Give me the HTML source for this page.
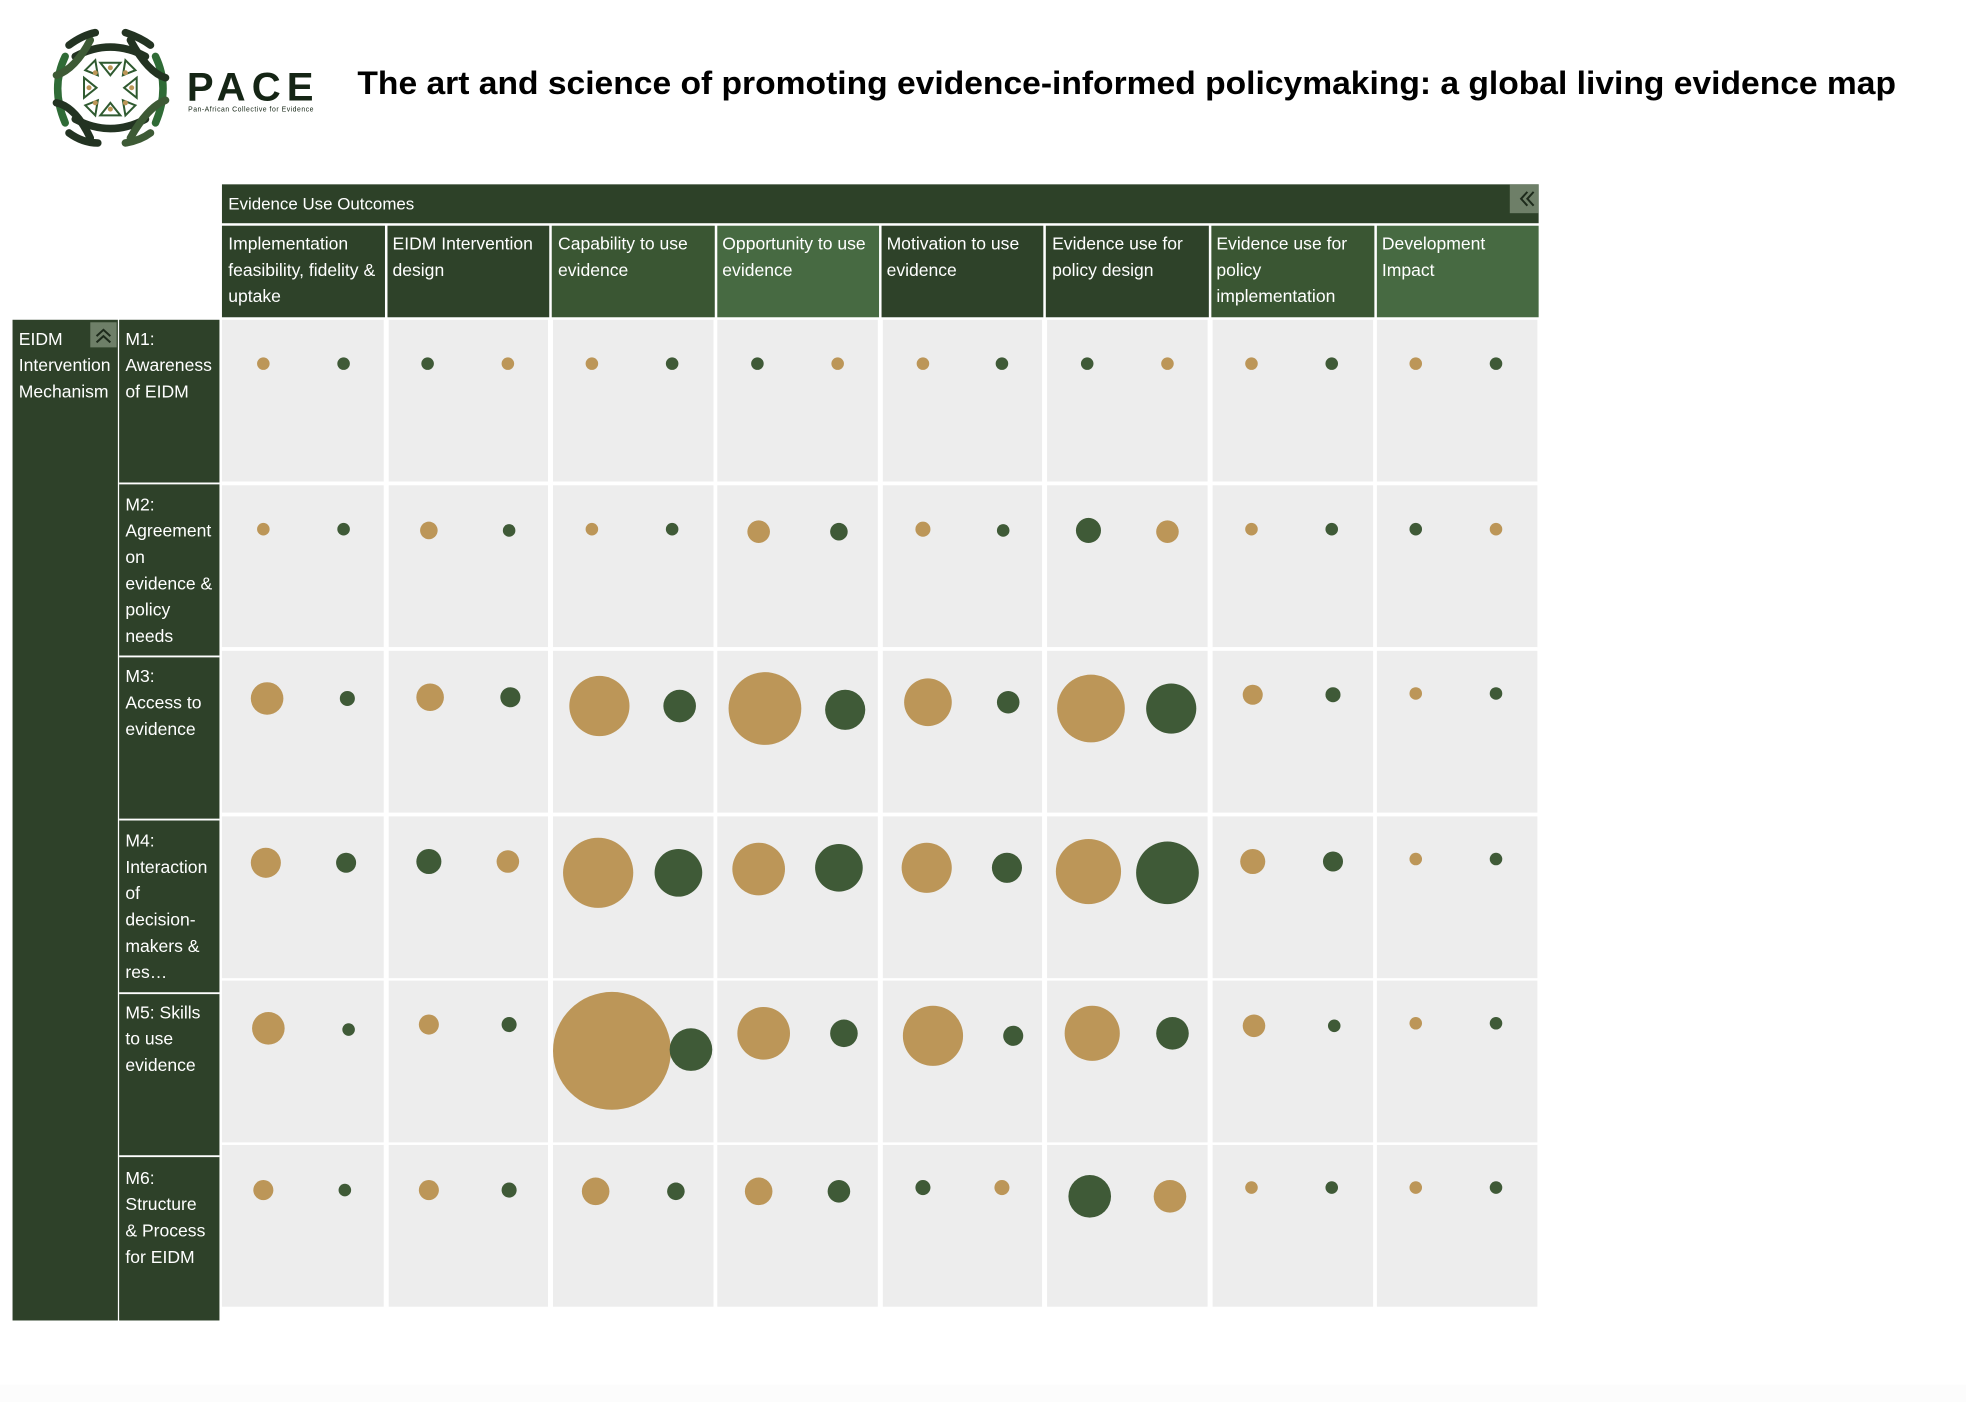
<!DOCTYPE html>
<html><head><meta charset="utf-8"><style>html,body{margin:0;padding:0;background:#fff}svg{display:block}</style></head><body>
<svg width="1966" height="1402" viewBox="0 0 1567.8 1118" preserveAspectRatio="none" xmlns="http://www.w3.org/2000/svg" font-family="Liberation Sans, Arial, sans-serif">
<rect width="1567.8" height="1118" fill="#fff"/>
<rect y="1104" width="1567.8" height="16" fill="#fcfcfc"/>
<g fill="none" stroke-linecap="round" stroke-width="6">
<path d="M60 45 Q88 30 116 45" stroke="#233322"/>
<path d="M60 95 Q88 110 116 95" stroke="#233322"/>
<path d="M52 45 Q40 70 52 98" stroke="#2f6b36"/>
<path d="M124 45 Q136 70 124 98" stroke="#2f6b36"/>
<path d="M72 32 Q60 55 45 60" stroke="#3d5a35"/>
<path d="M104 32 Q118 58 132 62" stroke="#233322"/>
<path d="M72 110 Q60 85 45 82" stroke="#233322"/>
<path d="M104 110 Q118 85 132 80" stroke="#3d5a35"/>
<path d="M55 36 Q66 28 76 26" stroke="#233322"/>
<path d="M100 26 Q112 30 120 36" stroke="#233322"/>
<path d="M55 106 Q66 114 78 114" stroke="#233322"/>
<path d="M100 114 Q112 112 120 106" stroke="#3d5a35"/>
</g>
<g fill="none" stroke="#2f5a30" stroke-width="1.6">
<polygon points="80,50 96,50 88,60"/><polygon points="80,92 96,92 88,82"/>
<polygon points="67,62 67,78 77,70"/><polygon points="109,62 109,78 99,70"/>
<polygon points="68,56 76,48 78,60"/><polygon points="108,56 100,48 98,60"/>
<polygon points="68,84 76,92 78,80"/><polygon points="108,84 100,92 98,80"/>
</g>
<g fill="#bc9658"><circle cx="88" cy="54" r="2"/><circle cx="88" cy="87" r="2"/><circle cx="71" cy="70" r="2"/><circle cx="105" cy="70" r="2"/><circle cx="76" cy="58" r="2"/><circle cx="100" cy="58" r="2"/><circle cx="76" cy="82" r="2"/><circle cx="100" cy="82" r="2"/></g>
<text x="149" y="80" font-size="32" font-weight="bold" fill="#152515" textLength="101" lengthAdjust="spacing">PACE</text>
<text x="150" y="89" font-size="5.5" fill="#152515" textLength="100">Pan-African Collective for Evidence</text>
<text x="285" y="75" font-size="26" font-weight="bold" fill="#000" textLength="1227" lengthAdjust="spacingAndGlyphs">The art and science of promoting evidence-informed policymaking: a global living evidence map</text>
<rect x="177" y="147" width="1050" height="31" fill="#2d4128"/>
<text x="182" y="167" font-size="13.5" fill="#fff">Evidence Use Outcomes</text>
<rect x="1204" y="147" width="23" height="23" fill="#6e7f68"/>
<polyline points="1218,153 1213,158.5 1218,164" fill="none" stroke="#1d2a1b" stroke-width="1.6"/>
<polyline points="1223,153 1218,158.5 1223,164" fill="none" stroke="#1d2a1b" stroke-width="1.6"/>
<g>
<rect x="177" y="180" width="130" height="73" fill="#2e4229"/>
<rect x="309" y="180" width="129" height="73" fill="#2e4229"/>
<rect x="440" y="180" width="130" height="73" fill="#3a5633"/>
<rect x="572" y="180" width="129" height="73" fill="#476a42"/>
<rect x="703" y="180" width="129" height="73" fill="#2e4229"/>
<rect x="834" y="180" width="130" height="73" fill="#2e4229"/>
<rect x="966" y="180" width="130" height="73" fill="#3a5633"/>
<rect x="1098" y="180" width="129" height="73" fill="#476a42"/>
</g>
<g font-size="14" fill="#fff">
<text x="182" y="199"><tspan x="182">Implementation</tspan><tspan x="182" dy="21">feasibility, fidelity &amp;</tspan><tspan x="182" dy="21">uptake</tspan></text>
<text x="313" y="199"><tspan x="313">EIDM Intervention</tspan><tspan x="313" dy="21">design</tspan></text>
<text x="445" y="199"><tspan x="445">Capability to use</tspan><tspan x="445" dy="21">evidence</tspan></text>
<text x="576" y="199"><tspan x="576">Opportunity to use</tspan><tspan x="576" dy="21">evidence</tspan></text>
<text x="707" y="199"><tspan x="707">Motivation to use</tspan><tspan x="707" dy="21">evidence</tspan></text>
<text x="839" y="199"><tspan x="839">Evidence use for</tspan><tspan x="839" dy="21">policy design</tspan></text>
<text x="970" y="199"><tspan x="970">Evidence use for</tspan><tspan x="970" dy="21">policy</tspan><tspan x="970" dy="21">implementation</tspan></text>
<text x="1102" y="199"><tspan x="1102">Development</tspan><tspan x="1102" dy="21">Impact</tspan></text>
</g>
<rect x="10" y="255" width="84" height="798" fill="#2e4129"/>
<rect x="95" y="255" width="80" height="798" fill="#2e4129"/>
<rect x="72" y="257" width="21" height="20" fill="#6e7f68"/>
<polyline points="77,268 82.5,263 88,268" fill="none" stroke="#1d2a1b" stroke-width="1.6"/>
<polyline points="77,273 82.5,268 88,273" fill="none" stroke="#1d2a1b" stroke-width="1.6"/>
<g stroke="#fff" stroke-width="1.5"><line x1="95" y1="385.5" x2="175" y2="385.5"/><line x1="95" y1="523.5" x2="175" y2="523.5"/><line x1="95" y1="653.5" x2="175" y2="653.5"/><line x1="95" y1="792" x2="175" y2="792"/><line x1="95" y1="922" x2="175" y2="922"/></g>
<g font-size="14" fill="#fff">
<text x="15" y="275"><tspan x="15">EIDM</tspan><tspan x="15" dy="21">Intervention</tspan><tspan x="15" dy="21">Mechanism</tspan></text>
<text x="100" y="275"><tspan x="100">M1:</tspan><tspan x="100" dy="21">Awareness</tspan><tspan x="100" dy="21">of EIDM</tspan></text>
<text x="100" y="407"><tspan x="100">M2:</tspan><tspan x="100" dy="21">Agreement</tspan><tspan x="100" dy="21">on</tspan><tspan x="100" dy="21">evidence &amp;</tspan><tspan x="100" dy="21">policy</tspan><tspan x="100" dy="21">needs</tspan></text>
<text x="100" y="544"><tspan x="100">M3:</tspan><tspan x="100" dy="21">Access to</tspan><tspan x="100" dy="21">evidence</tspan></text>
<text x="100" y="675"><tspan x="100">M4:</tspan><tspan x="100" dy="21">Interaction</tspan><tspan x="100" dy="21">of</tspan><tspan x="100" dy="21">decision-</tspan><tspan x="100" dy="21">makers &amp;</tspan><tspan x="100" dy="21">res…</tspan></text>
<text x="100" y="812"><tspan x="100">M5: Skills</tspan><tspan x="100" dy="21">to use</tspan><tspan x="100" dy="21">evidence</tspan></text>
<text x="100" y="944"><tspan x="100">M6:</tspan><tspan x="100" dy="21">Structure</tspan><tspan x="100" dy="21">&amp; Process</tspan><tspan x="100" dy="21">for EIDM</tspan></text>
</g>
<defs><g id="row">
<rect x="177" width="129" height="129"/><rect x="310" width="127" height="129"/><rect x="441" width="128" height="129"/><rect x="572" width="128" height="129"/><rect x="704" width="127" height="129"/><rect x="835" width="128" height="129"/><rect x="967" width="128" height="129"/><rect x="1098" width="128" height="129"/>
</g></defs>
<g fill="#ededed">
<use href="#row" y="255"/><use href="#row" y="387"/><use href="#row" y="519"/><use href="#row" y="651"/><use href="#row" y="782"/><use href="#row" y="913"/>
</g>
<g>
<g fill="#bc9658"><circle cx="210" cy="290" r="5"/><circle cx="405" cy="290" r="5"/><circle cx="472" cy="290" r="5"/><circle cx="668" cy="290" r="5"/><circle cx="736" cy="290" r="5"/><circle cx="931" cy="290" r="5"/><circle cx="998" cy="290" r="5"/><circle cx="1129" cy="290" r="5"/></g>
<g fill="#3f5a37"><circle cx="274" cy="290" r="5"/><circle cx="341" cy="290" r="5"/><circle cx="536" cy="290" r="5"/><circle cx="604" cy="290" r="5"/><circle cx="799" cy="290" r="5"/><circle cx="867" cy="290" r="5"/><circle cx="1062" cy="290" r="5"/><circle cx="1193" cy="290" r="5"/></g>
<g fill="#bc9658"><circle cx="210" cy="422" r="5"/><circle cx="342" cy="423" r="7"/><circle cx="472" cy="422" r="5"/><circle cx="605" cy="424" r="9"/><circle cx="736" cy="422" r="6"/><circle cx="931" cy="424" r="9"/><circle cx="998" cy="422" r="5"/><circle cx="1193" cy="422" r="5"/></g>
<g fill="#3f5a37"><circle cx="274" cy="422" r="5"/><circle cx="406" cy="423" r="5"/><circle cx="536" cy="422" r="5"/><circle cx="669" cy="424" r="7"/><circle cx="800" cy="423" r="5"/><circle cx="868" cy="423" r="10"/><circle cx="1062" cy="422" r="5"/><circle cx="1129" cy="422" r="5"/></g>
<g fill="#bc9658"><circle cx="213" cy="557" r="13"/><circle cx="343" cy="556" r="11"/><circle cx="478" cy="563" r="24"/><circle cx="610" cy="565" r="29"/><circle cx="740" cy="560" r="19"/><circle cx="870" cy="565" r="27"/><circle cx="999" cy="554" r="8"/><circle cx="1129" cy="553" r="5"/></g>
<g fill="#3f5a37"><circle cx="277" cy="557" r="6"/><circle cx="407" cy="556" r="8"/><circle cx="542" cy="563" r="13"/><circle cx="674" cy="566" r="16"/><circle cx="804" cy="560" r="9"/><circle cx="934" cy="565" r="20"/><circle cx="1063" cy="554" r="6"/><circle cx="1193" cy="553" r="5"/></g>
<g fill="#bc9658"><circle cx="212" cy="688" r="12"/><circle cx="405" cy="687" r="9"/><circle cx="477" cy="696" r="28"/><circle cx="605" cy="693" r="21"/><circle cx="739" cy="692" r="20"/><circle cx="868" cy="695" r="26"/><circle cx="999" cy="687" r="10"/><circle cx="1129" cy="685" r="5"/></g>
<g fill="#3f5a37"><circle cx="276" cy="688" r="8"/><circle cx="342" cy="687" r="10"/><circle cx="541" cy="696" r="19"/><circle cx="669" cy="692" r="19"/><circle cx="803" cy="692" r="12"/><circle cx="931" cy="696" r="25"/><circle cx="1063" cy="687" r="8"/><circle cx="1193" cy="685" r="5"/></g>
<g fill="#bc9658"><circle cx="214" cy="820" r="13"/><circle cx="342" cy="817" r="8"/><circle cx="488" cy="838" r="47"/><circle cx="609" cy="824" r="21"/><circle cx="744" cy="826" r="24"/><circle cx="871" cy="824" r="22"/><circle cx="1000" cy="818" r="9"/><circle cx="1129" cy="816" r="5"/></g>
<g fill="#3f5a37"><circle cx="278" cy="821" r="5"/><circle cx="406" cy="817" r="6"/><circle cx="551" cy="837" r="17"/><circle cx="673" cy="824" r="11"/><circle cx="808" cy="826" r="8"/><circle cx="935" cy="824" r="13"/><circle cx="1064" cy="818" r="5"/><circle cx="1193" cy="816" r="5"/></g>
<g fill="#bc9658"><circle cx="210" cy="949" r="8"/><circle cx="342" cy="949" r="8"/><circle cx="475" cy="950" r="11"/><circle cx="605" cy="950" r="11"/><circle cx="799" cy="947" r="6"/><circle cx="933" cy="954" r="13"/><circle cx="998" cy="947" r="5"/><circle cx="1129" cy="947" r="5"/></g>
<g fill="#3f5a37"><circle cx="275" cy="949" r="5"/><circle cx="406" cy="949" r="6"/><circle cx="539" cy="950" r="7"/><circle cx="669" cy="950" r="9"/><circle cx="736" cy="947" r="6"/><circle cx="869" cy="954" r="17"/><circle cx="1062" cy="947" r="5"/><circle cx="1193" cy="947" r="5"/></g>
</g>
</svg>
</body></html>
